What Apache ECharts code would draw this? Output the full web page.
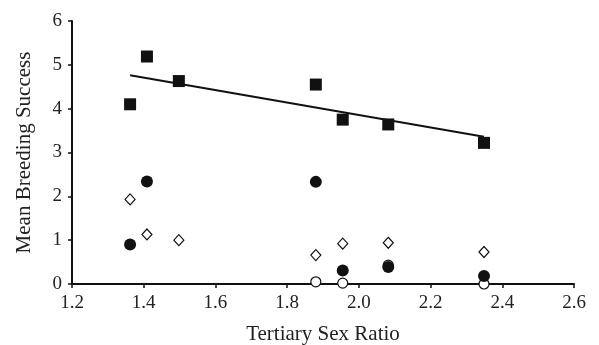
<!DOCTYPE html>
<html>
<head>
<meta charset="utf-8">
<script src="https://cdn.jsdelivr.net/npm/echarts@6/dist/echarts.min.js"></script>
<style>
  html, body { margin: 0; padding: 0; background: #fff; }
  #ec { width: 599px; height: 345px; }
</style>
</head>
<body>
<div id="ec"></div>
<script>
// tertiary sex ratio (x) for each population
var ratioA = [1.362, 1.409, 1.498, 1.880, 1.955, 2.082, 2.349];
var squares = [4.10, 5.19, 4.63, 4.55, 3.75, 3.64, 3.22];

var ratioB = [1.362, 1.409, 1.880, 1.955, 2.082, 2.349];
var filledCircles = [0.90, 2.34, 2.33, 0.31, 0.39, 0.18];

var diamonds = [1.93, 1.13, 1.00, 0.66, 0.92, 0.94, 0.73];

var ratioC = [1.880, 1.955, 2.082, 2.349];
var openCircles = [0.05, 0.02, 0.43, 0.00];

// fitted line through the squares
var trendX = [1.362, 2.349];
var trendY = [4.76, 3.36];

function pairs(xs, ys) {
  return xs.map(function (x, i) { return [x, ys[i]]; });
}

var chart = echarts.init(document.getElementById("ec"));
var font = "Liberation Serif";

chart.setOption({
  animation: false,
  backgroundColor: "#fff",
  grid: { left: 72, right: 25, top: 21, bottom: 61, containLabel: false, outerBoundsMode: "none" },
  xAxis: {
    type: "value",
    min: 1.2,
    max: 2.6,
    interval: 0.2,
    name: "Tertiary Sex Ratio",
    nameLocation: "middle",
    nameGap: 40,
    nameTextStyle: { fontFamily: font, fontSize: 21, color: "#222" },
    axisLine: { lineStyle: { color: "#111", width: 2 } },
    axisTick: { show: true, length: 4, lineStyle: { color: "#111", width: 1.5 } },
    axisLabel: {
      fontFamily: font, fontSize: 19, color: "#222", margin: 10,
      formatter: function (v) { return v.toFixed(1); }
    },
    splitLine: { show: false }
  },
  yAxis: {
    type: "value",
    min: 0,
    max: 6,
    interval: 1,
    name: "Mean Breeding Success",
    nameLocation: "middle",
    nameGap: 37,
    nameTextStyle: { fontFamily: font, fontSize: 21, color: "#222" },
    axisLine: { show: true, lineStyle: { color: "#111", width: 2 } },
    axisTick: { show: true, length: 4, lineStyle: { color: "#111", width: 1.5 } },
    axisLabel: { fontFamily: font, fontSize: 19, color: "#222", margin: 10 },
    splitLine: { show: false }
  },
  series: [
    {
      type: "line",
      data: pairs(trendX, trendY),
      symbol: "none",
      lineStyle: { color: "#111", width: 2 },
      z: 1
    },
    {
      type: "scatter",
      data: pairs(ratioA, squares),
      symbol: "rect",
      symbolSize: 12,
      itemStyle: { color: "#111", opacity: 1 },
      z: 3
    },
    {
      type: "scatter",
      data: pairs(ratioC, openCircles),
      symbol: "circle",
      symbolSize: 10,
      itemStyle: { color: "#fff", borderColor: "#111", borderWidth: 1.2, opacity: 1 },
      z: 2
    },
    {
      type: "scatter",
      data: pairs(ratioB, filledCircles),
      symbol: "circle",
      symbolSize: 12,
      itemStyle: { color: "#111", opacity: 1 },
      z: 3
    },
    {
      type: "scatter",
      data: pairs(ratioA, diamonds),
      symbol: "diamond",
      symbolSize: [10, 11],
      itemStyle: { color: "#fff", borderColor: "#111", borderWidth: 1.2, opacity: 1 },
      z: 3
    }
  ]
});
</script>
</body>
</html>
